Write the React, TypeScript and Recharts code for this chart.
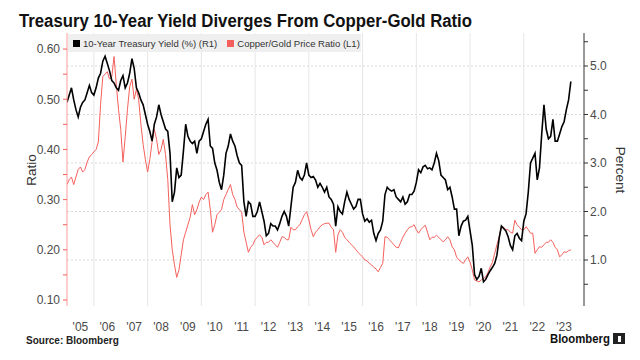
import React from 'react';
import { ComposedChart, Line, XAxis, YAxis, CartesianGrid } from 'recharts';

// monthly series, Jan 2005 .. Oct 2023
const startYear = 2005;

// 10-year Treasury yield, percent (right axis)
const yieldValues = [
  4.25, 4.4, 4.55, 4.3, 4.1, 3.95, 4.15, 4.25, 4.3, 4.45, 4.6, 4.45, // 2005
  4.4, 4.55, 4.75, 4.85, 5.1, 5.2, 5.05, 4.9, 4.7, 4.65, 4.55, 4.5, // 2006
  4.7, 4.8, 4.55, 4.65, 4.85, 5.15, 4.95, 4.55, 4.45, 4.3, 4.2, 4.0, // 2007
  3.8, 3.65, 3.45, 3.8, 3.95, 4.2, 4.0, 3.85, 3.7, 3.65, 3.2, 2.2, // 2008
  2.4, 2.9, 2.7, 2.75, 3.25, 3.8, 3.55, 3.45, 3.4, 3.45, 3.2, 3.45, // 2009
  3.5, 3.65, 3.8, 3.9, 3.35, 3.3, 3.0, 2.85, 2.6, 2.45, 2.75, 3.2, // 2010
  3.35, 3.6, 3.45, 3.35, 3.15, 3.0, 2.95, 2.2, 1.9, 2.2, 2.15, 1.9, // 2011
  1.9, 2.0, 2.2, 2.0, 1.8, 1.5, 1.55, 1.75, 1.7, 1.7, 1.62, 1.75, // 2012
  1.9, 2.0, 1.9, 1.7, 2.1, 2.5, 2.6, 2.85, 2.7, 2.65, 2.75, 3.0, // 2013
  2.75, 2.7, 2.72, 2.65, 2.5, 2.58, 2.5, 2.4, 2.5, 2.3, 2.25, 2.15, // 2014
  1.7, 2.1, 2.0, 1.95, 2.2, 2.4, 2.25, 2.15, 2.05, 2.1, 2.25, 2.25, // 2015
  1.95, 1.8, 1.85, 1.78, 1.82, 1.55, 1.4, 1.55, 1.62, 1.8, 2.35, 2.5, // 2016
  2.45, 2.42, 2.45, 2.3, 2.25, 2.2, 2.3, 2.15, 2.2, 2.35, 2.35, 2.42, // 2017
  2.6, 2.86, 2.8, 2.92, 2.95, 2.88, 2.9, 2.86, 3.0, 3.2, 3.05, 2.75, // 2018
  2.7, 2.65, 2.45, 2.5, 2.3, 2.05, 2.05, 1.5, 1.7, 1.8, 1.82, 1.9, // 2019
  1.6, 1.3, 0.7, 0.6, 0.66, 0.83, 0.55, 0.6, 0.7, 0.78, 0.85, 0.93, // 2020
  1.1, 1.45, 1.7, 1.65, 1.6, 1.48, 1.3, 1.21, 1.5, 1.55, 1.45, 1.4, // 2021
  1.8, 1.95, 2.4, 3.0, 3.1, 3.2, 2.65, 2.9, 3.6, 4.2, 3.7, 3.5, // 2022
  3.55, 3.9, 3.45, 3.45, 3.6, 3.75, 3.85, 4.1, 4.3, 4.68, // 2023
];

// copper/gold price ratio (left axis)
const ratioValues = [
  0.33, 0.34, 0.345, 0.33, 0.345, 0.36, 0.365, 0.355, 0.36, 0.375, 0.385, 0.39, // 2005
  0.395, 0.4, 0.415, 0.49, 0.545, 0.55, 0.555, 0.54, 0.545, 0.585, 0.53, 0.48, // 2006
  0.44, 0.375, 0.425, 0.48, 0.525, 0.54, 0.5, 0.52, 0.5, 0.45, 0.41, 0.38, // 2007
  0.355, 0.38, 0.415, 0.44, 0.42, 0.39, 0.4, 0.42, 0.39, 0.34, 0.25, 0.2, // 2008
  0.17, 0.145, 0.16, 0.19, 0.22, 0.235, 0.25, 0.265, 0.29, 0.27, 0.28, 0.295, // 2009
  0.305, 0.3, 0.31, 0.315, 0.28, 0.235, 0.25, 0.27, 0.275, 0.28, 0.3, 0.31, // 2010
  0.32, 0.33, 0.31, 0.3, 0.285, 0.28, 0.275, 0.235, 0.215, 0.195, 0.205, 0.21, // 2011
  0.22, 0.225, 0.23, 0.225, 0.21, 0.215, 0.215, 0.22, 0.215, 0.21, 0.205, 0.215, // 2012
  0.226, 0.225, 0.22, 0.22, 0.245, 0.24, 0.24, 0.246, 0.25, 0.26, 0.27, 0.276, // 2013
  0.26, 0.24, 0.226, 0.235, 0.24, 0.246, 0.25, 0.252, 0.253, 0.253, 0.245, 0.24, // 2014
  0.195, 0.23, 0.24, 0.235, 0.225, 0.22, 0.215, 0.21, 0.206, 0.2, 0.195, 0.19, // 2015
  0.186, 0.18, 0.178, 0.173, 0.17, 0.165, 0.162, 0.156, 0.165, 0.173, 0.226, 0.225, // 2016
  0.22, 0.215, 0.21, 0.205, 0.204, 0.215, 0.225, 0.233, 0.24, 0.245, 0.246, 0.25, // 2017
  0.24, 0.233, 0.24, 0.245, 0.249, 0.235, 0.22, 0.225, 0.225, 0.229, 0.225, 0.22, // 2018
  0.216, 0.22, 0.226, 0.22, 0.206, 0.2, 0.185, 0.18, 0.176, 0.173, 0.18, 0.186, // 2019
  0.175, 0.16, 0.14, 0.138, 0.136, 0.14, 0.143, 0.146, 0.155, 0.166, 0.175, 0.193, // 2020
  0.21, 0.226, 0.246, 0.245, 0.24, 0.24, 0.235, 0.233, 0.259, 0.25, 0.245, 0.24, // 2021
  0.24, 0.246, 0.24, 0.233, 0.233, 0.193, 0.2, 0.206, 0.205, 0.21, 0.215, 0.215, // 2022
  0.22, 0.215, 0.205, 0.2, 0.186, 0.19, 0.196, 0.195, 0.198, 0.2, // 2023
];

const labelYears = [2005, 2006, 2007, 2008, 2009, 2010, 2011, 2012, 2013, 2014, 2015, 2016, 2017, 2018, 2019, 2020, 2021, 2022, 2023];
const gridYears = [2006, 2008, 2010, 2012, 2014, 2016, 2018, 2020, 2022];
const ratioTicks = [0.1, 0.15, 0.2, 0.25, 0.3, 0.35, 0.4, 0.45, 0.5, 0.55, 0.6];
const percentTicks = [0.5, 1, 1.5, 2, 2.5, 3, 3.5, 4, 4.5, 5, 5.5];
const percentGrid = [1, 2, 3, 4, 5];

const data = yieldValues.map((v, i) => ({
  t: startYear + i / 12,
  yield: v,
  ratio: ratioValues[i],
}));

const FONT = '"Liberation Sans", Arial, sans-serif';
const RED = '#f5605c';

const isMajor = (v: number, step: number) => Math.abs(Math.round(v / step) * step - v) < 1e-6;

export default function App() {
  return (
    <div style={{ position: 'fixed', left: 0, top: 0, width: 640, height: 360, background: '#fff', fontFamily: FONT }}>
      <ComposedChart
        width={640}
        height={360}
        data={data}
        margin={{ top: 33, right: 0, bottom: 24, left: 0 }}
        style={{ position: 'absolute', left: 0, top: 0 }}
      >
        <CartesianGrid
          yAxisId="right"
          vertical={false}
          horizontalValues={percentGrid}
          stroke="#d9d9d9"
          strokeDasharray="2 2"
        />
        <CartesianGrid
          yAxisId="right"
          horizontal={false}
          verticalValues={gridYears}
          stroke="#e6e6e6"
        />
        <XAxis
          dataKey="t"
          type="number"
          domain={[2005, 2024.24]}
          allowDataOverflow
          ticks={labelYears.map((y) => y + 0.5)}
          tickFormatter={(v: number) => `'${String(Math.floor(v)).slice(2)}`}
          axisLine={false}
          tickLine={false}
          tickSize={0}
          tickMargin={16}
          height={30}
          tick={{ fill: '#4a4a4a', fontSize: 12 }}
          interval={0}
        />
        <YAxis
          yAxisId="left"
          orientation="left"
          type="number"
          domain={[0.088, 0.632]}
          allowDataOverflow
          ticks={ratioTicks}
          interval={0}
          tickFormatter={(v: number) => (isMajor(v, 0.1) ? v.toFixed(2) : '')}
          width={67}
          axisLine={{ stroke: '#ff9c9a' }}
          tickLine={{ stroke: RED }}
          tickSize={4}
          tickMargin={3}
          tick={{ fill: '#4a4a4a', fontSize: 12 }}
        />
        <YAxis
          yAxisId="right"
          orientation="right"
          type="number"
          domain={[0.052, 5.68]}
          allowDataOverflow
          ticks={percentTicks}
          interval={0}
          tickFormatter={(v: number) => (isMajor(v, 1) ? v.toFixed(1) : '')}
          width={56}
          axisLine={{ stroke: '#333' }}
          tickLine={{ stroke: '#333' }}
          tickSize={4}
          tickMargin={2}
          tick={{ fill: '#4a4a4a', fontSize: 12 }}
        />
        <Line
          yAxisId="left"
          dataKey="ratio"
          type="linear"
          stroke={RED}
          strokeWidth={1}
          dot={false}
          isAnimationActive={false}
        />
        <Line
          yAxisId="right"
          dataKey="yield"
          type="linear"
          stroke="#000"
          strokeWidth={1.6}
          dot={false}
          isAnimationActive={false}
        />
      </ComposedChart>

      {/* legend box */}
      <div
        style={{
          position: 'absolute',
          left: 68,
          top: 34,
          width: 293,
          height: 18,
          background: '#efefef',
          display: 'flex',
          alignItems: 'center',
          fontSize: 9.5,
          color: '#333',
          whiteSpace: 'nowrap',
        }}
      >
        <span style={{ width: 7, height: 7, background: '#000', marginLeft: 5, marginRight: 3 }} />
        <span>10-Year Treasury Yield (%) (R1)</span>
        <span style={{ width: 7, height: 7, background: RED, marginLeft: 10, marginRight: 3 }} />
        <span>Copper/Gold Price Ratio (L1)</span>
      </div>

      <svg width={640} height={360} style={{ position: 'absolute', left: 0, top: 0, pointerEvents: 'none' }}>
        <text x={19} y={26.5} fontSize={18} fontWeight="bold" fill="#111" textLength={453} lengthAdjust="spacingAndGlyphs">
          Treasury 10-Year Yield Diverges From Copper-Gold Ratio
        </text>
        <text transform="translate(36,170) rotate(-90)" textAnchor="middle" fontSize={13.5} fill="#333">
          Ratio
        </text>
        <text transform="translate(616,170) rotate(90)" textAnchor="middle" fontSize={13.5} fill="#333">
          Percent
        </text>
        <text x={26} y={344} fontSize={10} fontWeight="bold" fill="#222">
          Source: Bloomberg
        </text>
        <text x={550} y={343} fontSize={12.5} fontWeight="bold" fill="#111" textLength={60} lengthAdjust="spacingAndGlyphs">
          Bloomberg
        </text>
        <rect x={613} y={333} width={12} height={11} fill="#222" />
        <rect x={618} y={336} width={3} height={6} fill="#fff" />
      </svg>
    </div>
  );
}
